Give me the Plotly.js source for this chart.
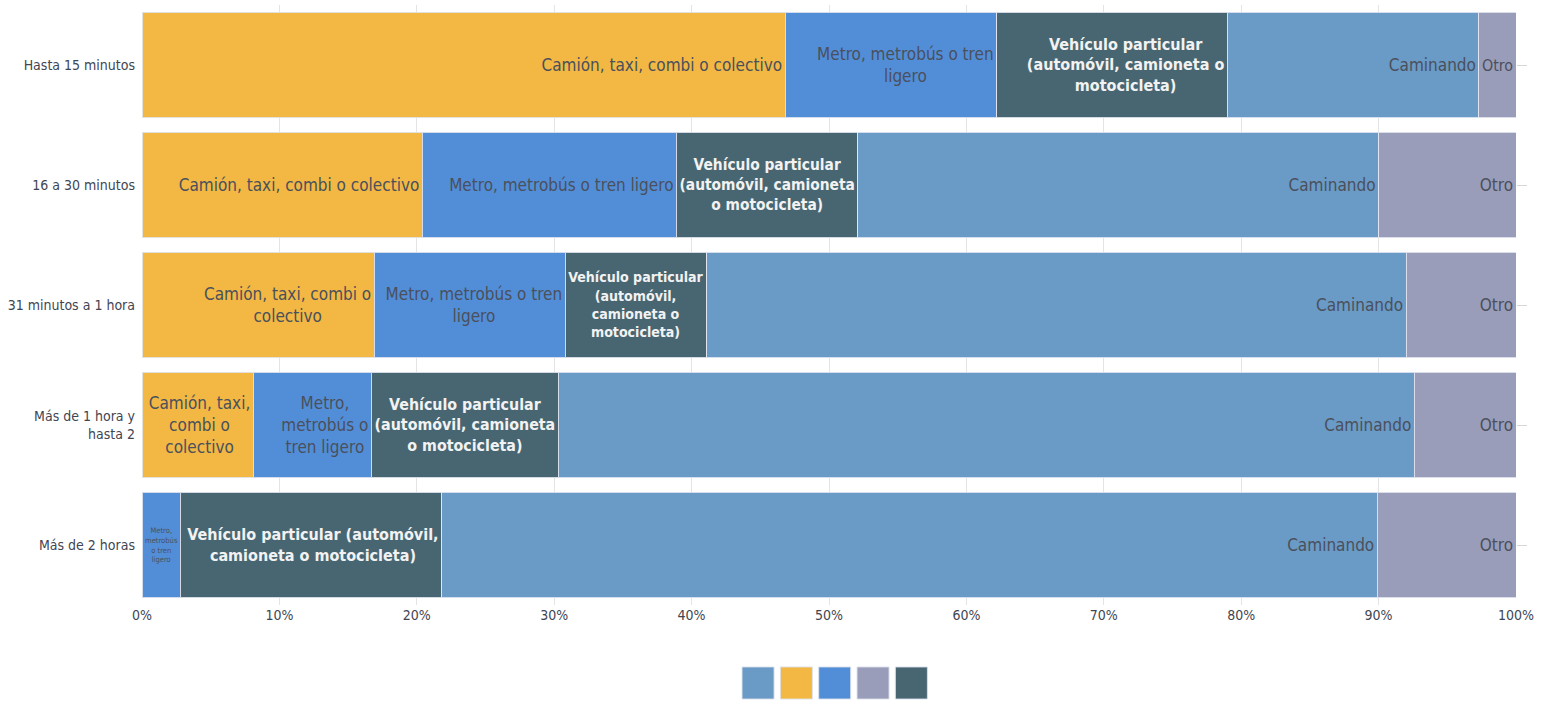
<!DOCTYPE html>
<html>
<head>
<meta charset="utf-8">
<script src="https://cdn.plot.ly/plotly-3.0.1.min.js"></script>
<style>html,body{margin:0;padding:0;background:#fff;}#chart{width:1551px;height:704px;}</style>
</head>
<body>
<div id="chart"></div>
<script>
// Categories (top to bottom)
const categories = ["Hasta 15 minutos", "16 a 30 minutos", "31 minutos a 1 hora", "Más de 1 hora y<br>hasta 2", "Más de 2 horas"];

// Series values (percent)
const camion    = [46.8, 20.4, 16.9, 8.1, 0.0];
const metro     = [15.4, 18.5, 13.9, 8.6, 2.8];
const vehiculo  = [16.8, 13.2, 10.3, 13.6, 19.0];
const caminando = [18.3, 37.9, 50.9, 62.3, 68.1];
const otro      = [2.7, 10.0, 8.0, 7.4, 10.1];

// Inside-bar labels
const camionText = ["Camión, taxi, combi o colectivo", "Camión, taxi, combi o colectivo", "Camión, taxi, combi o<br>colectivo", "Camión, taxi,<br>combi o<br>colectivo", ""];
const metroText = ["Metro, metrobús o tren<br>ligero", "Metro, metrobús o tren ligero", "Metro, metrobús o tren<br>ligero", "Metro,<br>metrobús o<br>tren ligero", "Metro,<br>metrobús<br>o tren<br>ligero"];
const vehiculoText = ["Vehículo particular<br>(automóvil, camioneta o<br>motocicleta)", "Vehículo particular<br>(automóvil, camioneta<br>o motocicleta)", "Vehículo particular<br>(automóvil,<br>camioneta o<br>motocicleta)", "Vehículo particular<br>(automóvil, camioneta<br>o motocicleta)", "Vehículo particular (automóvil,<br>camioneta o motocicleta)"];
const caminandoText = ["Caminando", "Caminando", "Caminando", "Caminando", "Caminando"];
const otroText = ["Otro", "Otro", "Otro", "Otro", "Otro"];

// Tick labels
const xTickVals = [0, 10, 20, 30, 40, 50, 60, 70, 80, 90, 100];
const xTickText = ["0%", "10%", "20%", "30%", "40%", "50%", "60%", "70%", "80%", "90%", "100%"];

// Legend order (colour squares only)
const legendColors = ["#6A9AC6", "#F2B843", "#528ED8", "#9A9DBA", "#486672"];

const FONT = "'DejaVu Sans Condensed', 'Liberation Sans Narrow', sans-serif";
const darkText = "#4A505C";

function barTrace(name, vals, txt, color, tcolor, weight, size) {
  return {
    type: "bar", orientation: "h", name: name,
    y: categories, x: vals, text: txt,
    textposition: "inside", insidetextanchor: "end",
    textangle: 0, constraintext: "both",
    textfont: {family: FONT, size: size, color: tcolor, weight: weight},
    marker: {color: color, line: {color: "rgba(225,230,240,0.9)", width: 1}},
    hoverinfo: "skip", showlegend: false
  };
}

const traces = [
  barTrace("Camión, taxi, combi o colectivo", camion, camionText, "#F2B843", darkText, 400, 17),
  barTrace("Metro, metrobús o tren ligero", metro, metroText, "#528ED8", darkText, 400, 17),
  barTrace("Vehículo particular (automóvil, camioneta o motocicleta)", vehiculo, vehiculoText, "#486672", "#F2F2F2", 700, 16),
  barTrace("Caminando", caminando, caminandoText, "#6A9AC6", darkText, 400, 17),
  barTrace("Otro", otro, otroText, "#9A9DBA", darkText, 400, 17),
  {type: "scatter", mode: "markers", y: categories, x: categories.map(() => null),
   yaxis: "y2", hoverinfo: "skip", showlegend: false, marker: {opacity: 0}}
];

// Legend squares (paper coordinates)
const shapes = legendColors.map((c, i) => ({
  type: "rect", xref: "paper", yref: "paper",
  x0: 0.4367 + i * 0.0279, x1: 0.4367 + i * 0.0279 + 0.0233,
  y0: -0.1567, y1: -0.1033,
  fillcolor: c, line: {color: "rgba(220,225,235,0.9)", width: 1}
}));

const layout = {
  width: 1551, height: 704,
  margin: {l: 142, r: 35, t: 5, b: 99},
  paper_bgcolor: "#fff", plot_bgcolor: "#fff",
  barmode: "stack", bargap: 0.117,
  font: {family: FONT, size: 14, color: "#3F4552"},
  xaxis: {
    range: [0, 100], tickvals: xTickVals, ticktext: xTickText,
    showgrid: true, gridcolor: "#E4E4E4", gridwidth: 1,
    zeroline: false, showline: false, ticks: "",
    tickfont: {family: FONT, size: 14, color: "#3F4552"}, fixedrange: true
  },
  yaxis: {
    type: "category", categoryarray: categories, range: [4.5, -0.5],
    showgrid: false, zeroline: false, showline: false, ticks: "",
    ticklabelstandoff: 6,
    tickfont: {family: FONT, size: 14, color: "#3F4552"}, fixedrange: true
  },
  yaxis2: {
    type: "category", categoryarray: categories, range: [4.5, -0.5],
    overlaying: "y", side: "right", showgrid: false, zeroline: false, showline: false,
    ticks: "outside", ticklen: 10, tickcolor: "#D6D6D6", showticklabels: false, fixedrange: true
  },
  shapes: shapes,
  showlegend: false
};

Plotly.newPlot("chart", traces, layout, {displayModeBar: false, staticPlot: true});
</script>
</body>
</html>
